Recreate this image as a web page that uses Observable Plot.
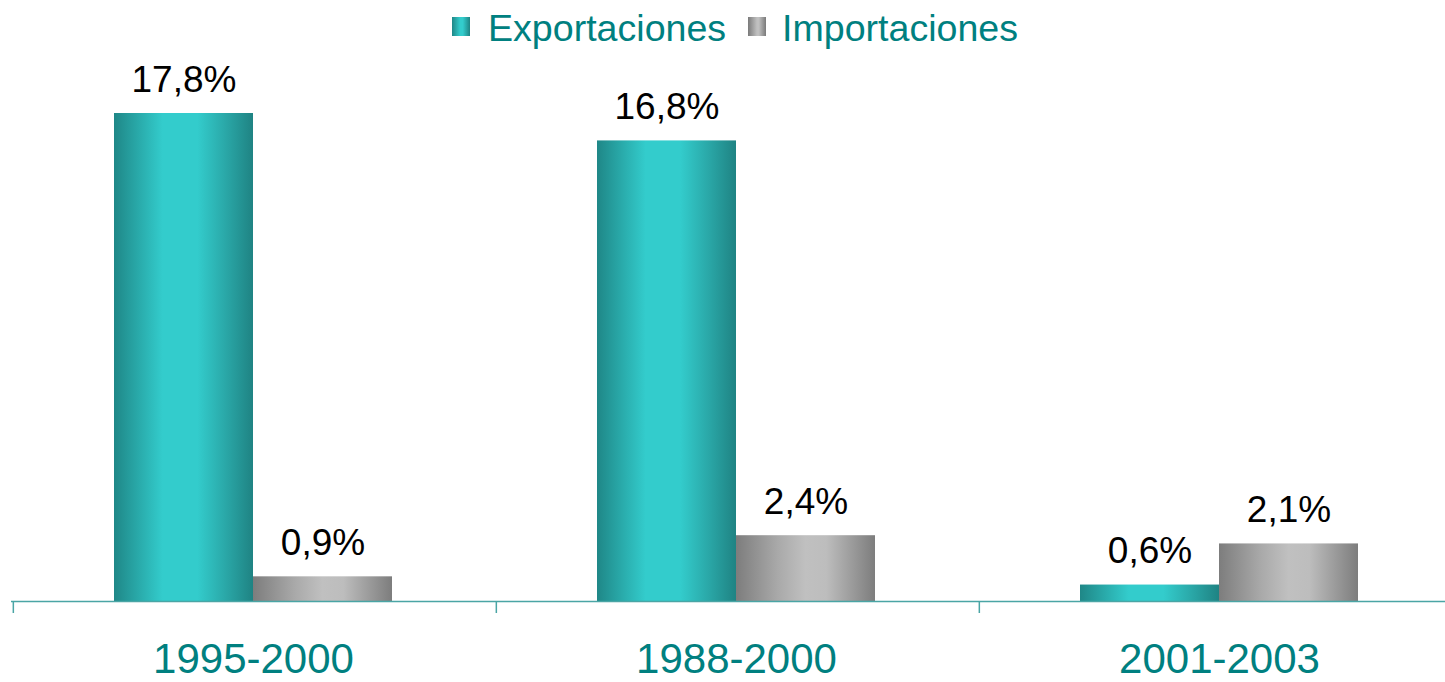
<!DOCTYPE html>
<html><head><meta charset="utf-8">
<script src="https://cdn.jsdelivr.net/npm/d3@7"></script>
<script src="https://cdn.jsdelivr.net/npm/@observablehq/plot@0.6"></script>
<style>
body{margin:0;background:#fff;font-family:"Liberation Sans",Arial,sans-serif;}
#legend{position:relative;height:56px;width:1445px;}
.sw{position:absolute;top:17px;width:18px;height:19px;}
.lt{position:absolute;top:10px;font-size:37.6px;line-height:37px;color:#008080;white-space:nowrap;}
#chart svg{display:block;}
</style></head><body>
<div id="legend"></div>
<div id="chart"></div>
<script>
// ---- data ----
const periods = ["1995-2000", "1988-2000", "2001-2003"];
const seriesNames = ["Exportaciones", "Importaciones"];
const exportaciones = [17.8, 16.8, 0.6];
const importaciones = [0.9, 2.4, 2.1];

const fmt = v => v.toFixed(1).replace(".", ",") + "%";
const expRows = periods.map((p, i) => ({period: p, series: seriesNames[0], value: exportaciones[i]}));
const impRows = periods.map((p, i) => ({period: p, series: seriesNames[1], value: importaciones[i]}));

// ---- layout ----
const W = 1445, H = 626;
const xRange = [10.5, 1460.5];
const step = (xRange[1] - xRange[0]) / periods.length;
const groupW = 278;
const padIn = 1 - groupW / step;
const half = groupW / 2;
const teal = "#008080";
const axisColor = "#4aa5a5";
const font = "Liberation Sans, Arial, sans-serif";

// legend
const legend = document.getElementById("legend");
legend.innerHTML = `
<div class="sw" style="left:452px;background:linear-gradient(to right,#1f8787,#33cccc 45%,#33cccc 60%,#1f8383)"></div>
<div class="lt" style="left:488px">${seriesNames[0]}</div>
<div class="sw" style="left:748px;background:linear-gradient(to right,#7a7a7a,#c0c0c0 50%,#c0c0c0 60%,#7a7a7a)"></div>
<div class="lt" style="left:782px">${seriesNames[1]}</div>`;

const chart = Plot.plot({
  width: W, height: H,
  marginLeft: 11, marginRight: 0, marginTop: 0, marginBottom: 81,
  style: {fontFamily: font, background: "white"},
  x: {domain: periods, range: xRange, paddingInner: padIn, paddingOuter: padIn / 2, align: 0.5, label: null},
  y: {domain: [0, 17.8], range: [545, 57], axis: null},
  marks: [
    Plot.barY(expRows, {x: "period", y: "value", insetRight: half, fill: "url(#gExp)"}),
    Plot.barY(impRows, {x: "period", y: "value", insetLeft: half, fill: "url(#gImp)"}),
    Plot.ruleY([0], {stroke: axisColor, strokeWidth: 1.5}),
    Plot.ruleX(periods, {x: d => d, y1: 0, y2: 0, dx: -step / 2 + 1.5, insetBottom: -12, stroke: axisColor, strokeWidth: 1.5}),
    Plot.text(expRows, {x: "period", y: "value", text: d => fmt(d.value), dx: -half / 2, dy: -22, lineAnchor: "bottom", fontSize: 37, fill: "black"}),
    Plot.text(impRows, {x: "period", y: "value", text: d => fmt(d.value), dx: half / 2, dy: -22, lineAnchor: "bottom", fontSize: 37, fill: "black"}),
    Plot.axisX({tickSize: 0, tickPadding: 42, fontSize: 42, fill: teal, stroke: "none", label: null})
  ]
});

const defs = d3.select(chart).insert("defs", ":first-child");
function grad(id, stops) {
  const g = defs.append("linearGradient").attr("id", id).attr("x1", 0).attr("x2", 1).attr("y1", 0).attr("y2", 0);
  stops.forEach(([o, c]) => g.append("stop").attr("offset", o).attr("stop-color", c));
}
grad("gExp", [[0, "#1f8787"], [0.35, "#33cccc"], [0.6, "#33cccc"], [0.8, "#2aa8a8"], [1, "#1f8383"]]);
grad("gImp", [[0, "#7d7d7d"], [0.3, "#a9a9a9"], [0.5, "#c0c0c0"], [0.65, "#bdbdbd"], [1, "#7d7d7d"]]);

document.getElementById("chart").appendChild(chart);
</script>
</body></html>
